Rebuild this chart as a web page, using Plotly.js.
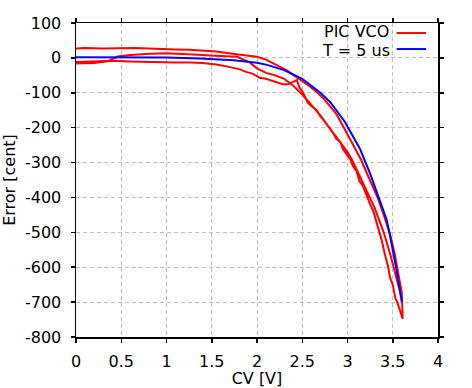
<!DOCTYPE html>
<html>
<head>
<meta charset="utf-8">
<script src="https://cdn.plot.ly/plotly-3.0.1.min.js"></script>
<style>html,body{margin:0;padding:0;background:#fff;}#chart{width:472px;height:388px;}</style>
</head>
<body>
<div id="chart"></div>
<script>
// ---- data ----
// PIC VCO measurement: sweep up (upper path), back down (lower path), up again (middle path)
var picUpX   = [0, 0.1, 0.3, 0.5, 0.65, 0.8, 0.93, 1.1, 1.25, 1.4, 1.55, 1.73, 1.85, 2.0, 2.1, 2.2, 2.33, 2.44, 2.55, 2.66, 2.74, 2.81, 2.88, 2.95, 3.02, 3.1, 3.15, 3.2, 3.27, 3.34, 3.4, 3.47, 3.52, 3.56, 3.6];
var picUpY   = [27, 28, 27, 28, 28, 27, 25, 24, 23, 21, 18, 12, 8, 3, -5, -18, -36, -56, -75, -98, -118, -140, -162, -195, -228, -265, -292, -322, -362, -405, -450, -505, -560, -612, -673];
var picDownX = [3.61, 3.59, 3.58, 3.55, 3.53, 3.5, 3.47, 3.45, 3.41, 3.38, 3.33, 3.29, 3.25, 3.22, 3.17, 3.13, 3.1, 3.06, 3.03, 2.99, 2.95, 2.92, 2.88, 2.84, 2.8, 2.76, 2.73, 2.69, 2.66, 2.6, 2.56, 2.51, 2.47, 2.44, 2.4, 2.35, 2.29, 2.24, 2.18, 2.1, 2.03, 1.98, 1.95, 1.88, 1.81, 1.68, 1.55, 1.4, 1.26, 1.1, 0.82, 0.6, 0.4, 0.2, 0];
var picDownY = [-748, -730, -722, -700, -690, -650, -630, -600, -560, -525, -480, -443, -420, -400, -367, -352, -325, -310, -290, -276, -262, -240, -233, -215, -200, -186, -176, -164, -150, -138, -128, -100, -85, -64, -70, -75, -76, -72, -67, -60, -57, -48, -45, -40, -33, -25, -19, -15, -13, -13, -12, -10, -8, -10, -12];
var picMidX  = [0, 0.2, 0.35, 0.46, 0.6, 0.82, 1.0, 1.18, 1.35, 1.48, 1.6, 1.78, 1.92, 2.0, 2.1, 2.2, 2.3, 2.4, 2.5, 2.6, 2.7, 2.8, 2.9, 2.95, 3.0, 3.05, 3.1, 3.2, 3.3, 3.4, 3.48, 3.55, 3.6];
var picMidY  = [-16, -15, -10, 4, 8, 12, 13, 12, 9, 7, 5, 3, -13, -30, -43, -50, -60, -80, -105, -135, -165, -200, -235, -250, -270, -292, -320, -375, -430, -500, -570, -640, -690];
// Model, T = 5 us
var modelX = [0, 0.5, 1.0, 1.37, 1.74, 2.0, 2.11, 2.3, 2.5, 2.7, 2.81, 2.97, 3.14, 3.25, 3.34, 3.43, 3.47, 3.54, 3.6];
var modelY = [2, 2, 1, -2, -7, -14, -20, -35, -60, -100, -127, -183, -262, -332, -400, -462, -510, -605, -700];
// axes ticks
var xTickVals = [0, 0.5, 1, 1.5, 2, 2.5, 3, 3.5, 4];
var xTickText = ['0', '0.5', '1', '1.5', '2', '2.5', '3', '3.5', '4'];
var yTickVals = [100, 0, -100, -200, -300, -400, -500, -600, -700, -800];
var yTickText = ['100', '0', '-100', '-200', '-300', '-400', '-500', '-600', '-700', '-800'];
var seriesNames = ['PIC VCO', 'T = 5 us'];
var seriesColors = ['#ff0000', '#0000ff'];

var picX = picUpX.concat(picDownX, picMidX);
var picY = picUpY.concat(picDownY, picMidY);

var font = 'DejaVu Sans, sans-serif';
var traces = [
  {x: picX, y: picY, type: 'scatter', mode: 'lines', name: seriesNames[0], showlegend: false,
   line: {color: seriesColors[0], width: 2}},
  {x: modelX, y: modelY, type: 'scatter', mode: 'lines', name: seriesNames[1], showlegend: false,
   line: {color: seriesColors[1], width: 2}}
];

var axisCommon = {
  showline: true, linecolor: '#000', linewidth: 1.5, mirror: 'ticks',
  ticks: 'outside', ticklen: 4, tickwidth: 1.5, tickcolor: '#000',
  showgrid: true, gridcolor: '#c0c0c0', gridwidth: 1, griddash: '4px,3px',
  zeroline: false, tickfont: {family: font, size: 16, color: '#000'}
};

var layout = {
  width: 472, height: 388,
  margin: {l: 76, r: 34, t: 23, b: 51},
  paper_bgcolor: '#fff', plot_bgcolor: '#fff',
  showlegend: false,
  xaxis: Object.assign({}, axisCommon, {
    range: [0, 4], tickmode: 'array', tickvals: xTickVals, ticktext: xTickText,
    ticklabelstandoff: 5,
    title: {text: 'CV [V]', font: {family: font, size: 16, color: '#000'}, standoff: 3}
  }),
  yaxis: Object.assign({}, axisCommon, {
    range: [-800, 100], tickmode: 'array', tickvals: yTickVals, ticktext: yTickText,
    ticklabelstandoff: 6,
    title: {text: 'Error [cent]', font: {family: font, size: 16, color: '#000'}, standoff: 9}
  }),
  annotations: [
    {xref: 'paper', yref: 'paper', x: 0.867, y: 0.974, xanchor: 'right', yanchor: 'middle',
     text: seriesNames[0], showarrow: false, borderpad: 0, font: {family: font, size: 16, color: '#000'}},
    {xref: 'paper', yref: 'paper', x: 0.869, y: 0.912, xanchor: 'right', yanchor: 'middle',
     text: seriesNames[1], showarrow: false, borderpad: 0, font: {family: font, size: 16, color: '#000'}}
  ],
  shapes: [
    {type: 'line', xref: 'paper', yref: 'paper', x0: 0.886, x1: 0.967, y0: 0.968, y1: 0.968,
     line: {color: seriesColors[0], width: 2}},
    {type: 'line', xref: 'paper', yref: 'paper', x0: 0.886, x1: 0.967, y0: 0.917, y1: 0.917,
     line: {color: seriesColors[1], width: 2}}
  ]
};

Plotly.newPlot('chart', traces, layout, {staticPlot: true, displayModeBar: false});
</script>
</body>
</html>
